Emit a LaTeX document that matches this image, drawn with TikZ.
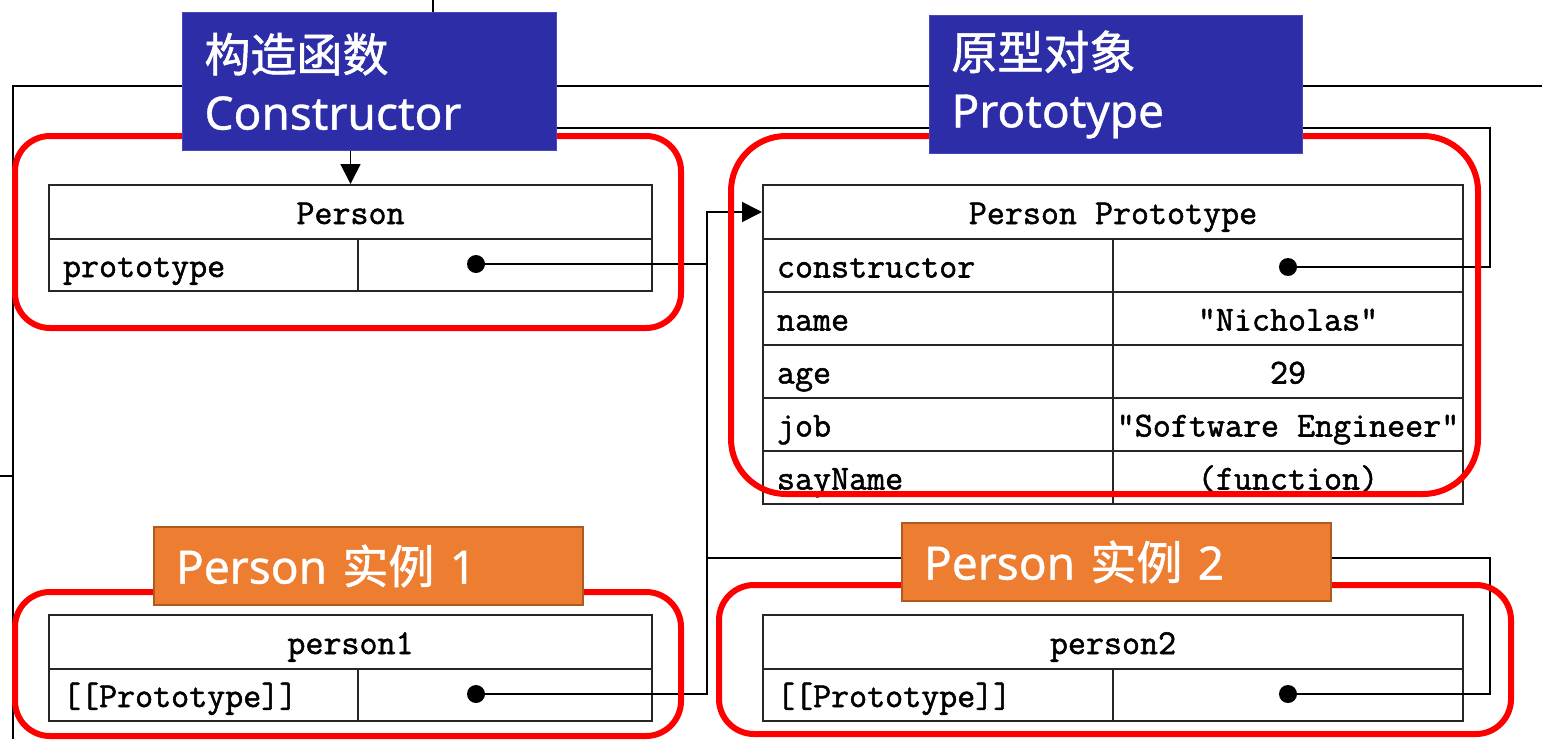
\documentclass[tikz,border=0pt]{standalone}
\usepackage{fontspec}
\newfontfamily\cjk[FakeBold=1.2]{Noto Sans CJK SC}
\newfontfamily\lab[FakeBold=0.8]{Noto Sans}
\newfontfamily\tabf[FakeBold=1.5]{Latin Modern Mono}
\usetikzlibrary{arrows.meta}
\definecolor{lblue}{RGB}{46,45,168}
\definecolor{lblueb}{RGB}{70,70,190}
\definecolor{lorange}{RGB}{237,125,49}
\definecolor{lorangeb}{RGB}{174,90,33}
\definecolor{hred}{RGB}{255,0,0}
\begin{document}
\begin{tikzpicture}[x=1pt,y=-1pt,
 tab/.style={draw=black!85, line width=2pt, inner sep=0pt, anchor=north west, text height=28pt, text depth=4pt, font=\fontsize{35}{40}\selectfont\tabf},
 hcell/.style={tab},
 kcell/.style={tab, inner xsep=14pt, align=left},
 dotn/.style={circle, fill=black, inner sep=0pt, minimum size=18pt},
 conn/.style={line width=1.8pt},
 tip/.style={-{Triangle[length=20pt,width=20pt]}},
 hlbox/.style={draw=hred, line width=6pt},
 lab/.style={text=white, anchor=north west, inner xsep=22pt, inner ysep=0pt, align=left, font=\fontsize{46}{58}\selectfont},
 bluelab/.style={lab, fill=lblue, draw=lblueb, line width=1pt},
 orlab/.style={lab, fill=lorange, draw=lorangeb, line width=2pt}
]
\useasboundingbox (0,0) rectangle (1542,739);
% fragments of outer lines
\draw[conn] (433,0) -- (433,12);
\draw[conn] (1542,86) -- (13,86) -- (13,739);
\draw[conn] (0,476) -- (13,476);

% Person table
\node[hcell, minimum width=603pt, minimum height=54pt] (ph) at (48,184) {Person};
\node[kcell, text width=281pt, minimum height=52pt] (pk) at (48,238) {prototype};
\node[hcell, minimum width=294pt, minimum height=52pt] (pv) at (357,238) {};

% Person Prototype table
\node[hcell, minimum width=700pt, minimum height=54pt] (pph) at (762,184) {Person Prototype};
\node[kcell, text width=322pt, minimum height=53pt] (k1) at (762,238) {constructor};
\node[hcell, minimum width=350pt, minimum height=53pt] (v1) at (1112,238) {};
\node[kcell, text width=322pt, minimum height=53pt] (k2) at (762,291) {name};
\node[hcell, minimum width=350pt, minimum height=53pt] (v2) at (1112,291) {"Nicholas"};
\node[kcell, text width=322pt, minimum height=53pt] (k3) at (762,344) {age};
\node[hcell, minimum width=350pt, minimum height=53pt] (v3) at (1112,344) {29};
\node[kcell, text width=322pt, minimum height=53pt] (k4) at (762,397) {job};
\node[hcell, minimum width=350pt, minimum height=53pt] (v4) at (1112,397) {"Software Engineer"};
\node[kcell, text width=322pt, minimum height=53pt] (k5) at (762,450) {sayName};
\node[hcell, minimum width=350pt, minimum height=53pt] (v5) at (1112,450) {(function)};

% person1 table
\node[hcell, minimum width=603pt, minimum height=54pt] (p1h) at (48,614) {person1};
\node[kcell, text width=281pt, minimum height=52pt] (p1k) at (48,668) {[[Prototype]]};
\node[hcell, minimum width=294pt, minimum height=52pt] (p1v) at (357,668) {};

% person2 table
\node[hcell, minimum width=700pt, minimum height=54pt] (p2h) at (762,614) {person2};
\node[kcell, text width=322pt, minimum height=52pt] (p2k) at (762,668) {[[Prototype]]};
\node[hcell, minimum width=350pt, minimum height=52pt] (p2v) at (1112,668) {};

% dots
\node[dotn] (d1) at (476,264) {};
\node[dotn] (d2) at (1288,267) {};
\node[dotn] (d3) at (476,694) {};
\node[dotn] (d4) at (1288,694) {};

% connectors
\coordinate (jb) at (707,558);
\coordinate (rt) at (1490,558);
\coordinate (rc) at (1490,128);
\draw[conn,tip] (d3) -| (jb |- pph.west) -- (pph.west);
\draw[conn] (d1) -- (d1 -| jb);
\draw[conn] (d4) -| (rt) -- (jb);
\draw[conn,tip] (d2) -| (rc) -| (ph.north);

% highlight boxes
\draw[hlbox, rounded corners=35pt] (15,136) rectangle (681,328);
\draw[hlbox, rounded corners=55pt] (731,136) rectangle (1478,494);
\draw[hlbox, rounded corners=35pt] (15,592) rectangle (681,736);
\draw[hlbox, rounded corners=35pt] (719,585) rectangle (1511,734);

% labels
\node[bluelab, minimum height=138pt, text width=330pt] (lc) at (182,12) {{\cjk 构造函数}\\{\lab Constructor}};
\node[bluelab, minimum height=138pt, text width=329pt] (lp) at (929,15) {{\cjk 原型对象}\\{\lab Prototype}};
\node[orlab, minimum height=78pt, text width=385pt] (l1) at (153,526) {{\lab Person }{\cjk 实例}{\lab\ 1}};
\node[orlab, minimum height=78pt, text width=385pt] (l2) at (901,522) {{\lab Person }{\cjk 实例}{\lab\ 2}};
\end{tikzpicture}
\end{document}
